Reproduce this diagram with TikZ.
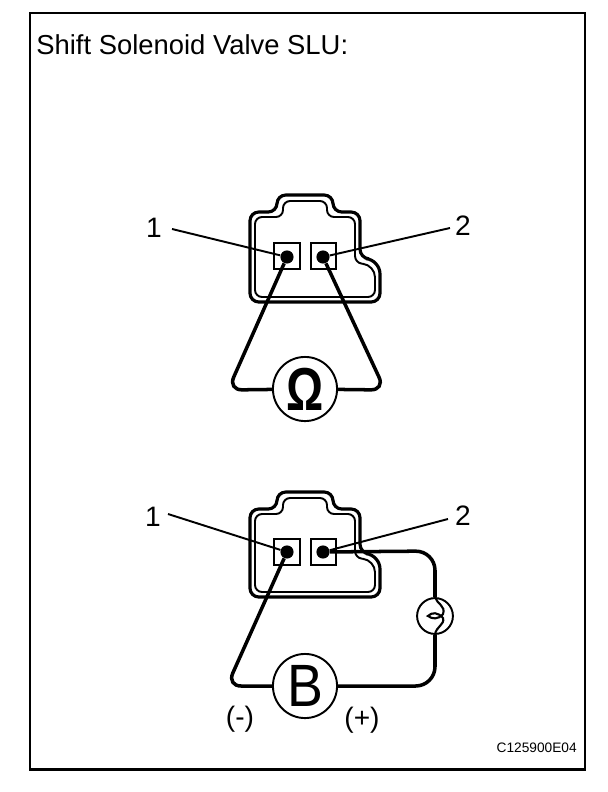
\documentclass[tikz,border=0pt]{standalone}
\usepackage{fontspec}
\setmainfont{Liberation Sans}
\usepackage{tikz}
\usetikzlibrary{positioning}
\tikzset{
	housing/.style={line width=1.8pt, rounded corners=5},
	housingin/.style={line width=1.1pt, rounded corners=4},
	pinbox/.style={draw, line width=1.1pt, minimum size=14.5pt, inner sep=0pt},
	pindot/.style={circle, fill=black, minimum size=7.5pt, inner sep=0pt},
	leader/.style={line width=1.1pt},
	wire/.style={line width=2pt, rounded corners=8},
	meter/.style={circle, draw, fill=white, line width=1.1pt, minimum size=36.5pt, inner sep=0pt},
	pinlabel/.style={font=\fontsize{16}{16}\selectfont},
}
\begin{document}
\begin{tikzpicture}[x=0.02cm, y=-0.02cm]
		\useasboundingbox (0, 0) rectangle (608, 792);
		\draw[line width=1.7pt] (30, 13) rectangle (585, 769);
		\node[anchor=base west, inner sep=0pt, font=\fontsize{15.6}{16}\selectfont] (title) at (36, 54) {Shift Solenoid Valve SLU:};
		% upper connector
		\draw[housing] (277, 212) -- (277, 195) -- (333, 195) -- (333, 212) -- (360, 212) -- (360, 258) [rounded corners=8] -- (380, 260) [rounded corners=5] -- (380, 302) -- (250, 302) -- (250, 212) -- cycle;
		\draw[housingin] (283, 217) -- (283, 201) -- (327, 201) -- (327, 217) -- (355, 217) -- (355, 263) [rounded corners=7] -- (375, 265) [rounded corners=4] -- (375, 297) -- (255, 297) -- (255, 217) -- cycle;
		\node[pinbox] (boxa) at (287, 256) {};
		\node[pinbox] (boxb) at (323.5, 256) {};
		\node[pindot] (pina) at (287, 257) {};
		\node[pindot] (pinb) at (323, 257) {};
		\node[pinlabel] (numa) at (154, 228) {1};
		\node[pinlabel] (numb) at (463, 226) {2};
		\draw[leader] (numa.east) ++(4, 1) coordinate (leada) -- (pina);
		\draw[leader] (numb.west) ++(1, 2) coordinate (leadb) -- (pinb);
		\node[meter] (ohm) at (305, 389) {\fontsize{30}{30}\selectfont\bfseries\raisebox{-1pt}{\scalebox{.88}[1.15]{Ω}}};
		\coordinate (ohml) at (228, 390);
		\coordinate (ohmr) at (385, 390);
		\draw[wire] (pina) -- (ohml) -- (ohm);
		\draw[wire] (pinb) -- (ohmr) -- (ohm);
		% lower connector
		\draw[housing] (277, 509) -- (277, 492) -- (333, 492) -- (333, 509) -- (360, 509) -- (360, 553) [rounded corners=8] -- (380, 555) [rounded corners=5] -- (380, 597) -- (250, 597) -- (250, 509) -- cycle;
		\draw[housingin] (283, 514) -- (283, 498) -- (327, 498) -- (327, 514) -- (355, 514) -- (355, 558) [rounded corners=7] -- (375, 560) [rounded corners=4] -- (375, 592) -- (255, 592) -- (255, 514) -- cycle;
		\node[pinbox] (boxc) at (287, 552) {};
		\node[pinbox] (boxd) at (323.5, 552) {};
		\node[pindot] (pinc) at (287, 552) {};
		\node[pindot] (pind) at (323, 552) {};
		\node[pinlabel] (numc) at (153, 517) {1};
		\node[pinlabel] (numd) at (463, 516) {2};
		\draw[leader] (numc.east) ++(1, -3) coordinate (leadc) -- (pinc);
		\draw[leader] (numd.west) ++(-1, 3) coordinate (leadd) -- (pind);
		\node[meter] (batt) at (305, 686) {\fontsize{34}{34}\selectfont\scalebox{.9}[1]{B}};
		\node[meter, minimum size=20.4pt] (lamp) at (435, 616) {};
		\coordinate (battl) at (227, 686);
		\coordinate (battr) at (435, 686);
		\coordinate (lampt) at (435, 551);
		\draw[wire] (pinc) -- (battl) -- (batt);
		\draw[wire, rounded corners=11] (pind) -- (lampt) -- (lamp);
		\draw[wire, rounded corners=11] (lamp) -- (battr) -- (batt);
		\draw[line width=1.2pt] (lamp.north) .. controls (437, 604) and (446, 606) .. (443, 614) .. controls (438, 620) and (432, 619) .. (428, 616) .. controls (432, 612) and (438, 612) .. (443, 618) .. controls (445, 625) and (436, 626) .. (lamp.south);
		\node[pinlabel] (neg) at (240, 719) {(-)};
		\node[pinlabel] (pos) at (362, 720) {(+)};
		\node[anchor=east, inner sep=0pt, font=\fontsize{7.8}{10}\selectfont] (code) at (577, 748) {C125900E04};
\end{tikzpicture}
\end{document}
